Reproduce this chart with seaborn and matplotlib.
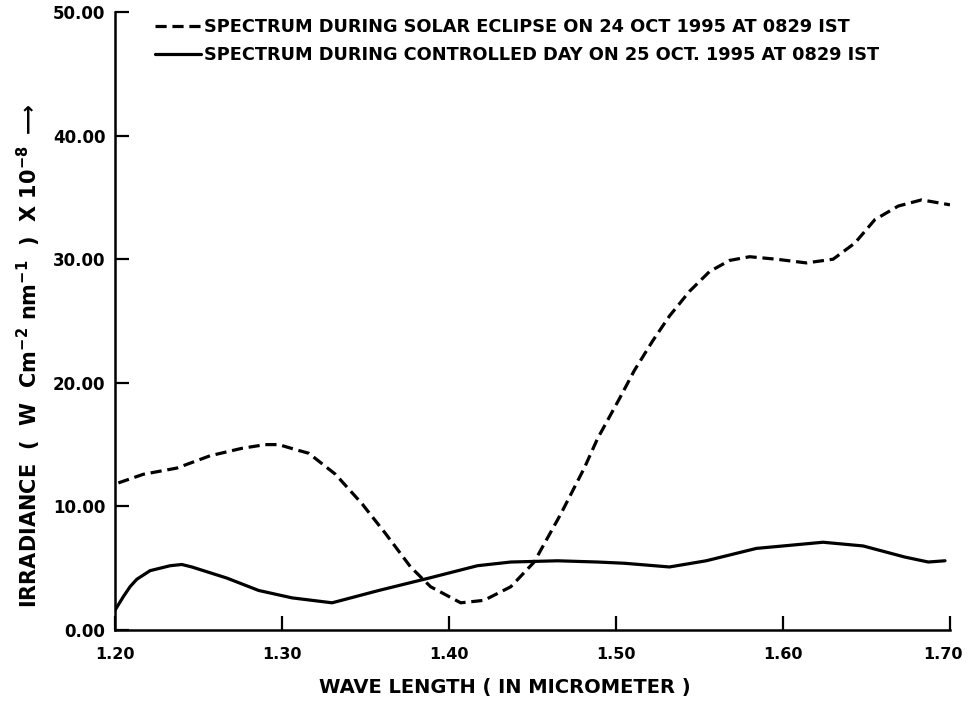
import numpy as np
import pandas as pd
import matplotlib
matplotlib.use("Agg")
import matplotlib.pyplot as plt
import matplotlib.transforms as mtransforms
import seaborn as sns

# wavelength (micrometer) / irradiance (x 1e-8 W cm-2 nm-1)
eclipse_wl = [1.202, 1.217, 1.237, 1.257, 1.276, 1.290, 1.298, 1.308, 1.316, 1.332,
              1.348, 1.362, 1.377, 1.389, 1.407, 1.421, 1.437, 1.451, 1.467, 1.481,
              1.489, 1.502, 1.511, 1.522, 1.532, 1.544, 1.556, 1.568, 1.580, 1.596,
              1.614, 1.630, 1.643, 1.655, 1.669, 1.683, 1.700]
eclipse_irr = [11.9, 12.6, 13.1, 14.1, 14.7, 15.0, 15.0, 14.6, 14.3, 12.6,
               10.2, 7.8, 5.1, 3.5, 2.2, 2.4, 3.5, 5.5, 9.4, 13.1,
               15.5, 18.7, 21.0, 23.4, 25.4, 27.4, 29.0, 29.9, 30.2, 30.0,
               29.7, 30.0, 31.3, 33.2, 34.3, 34.8, 34.4]

control_wl = [1.200, 1.205, 1.209, 1.213, 1.221, 1.233, 1.240, 1.246, 1.267, 1.286,
              1.306, 1.330, 1.358, 1.388, 1.417, 1.437, 1.465, 1.489, 1.505, 1.532,
              1.554, 1.584, 1.624, 1.648, 1.673, 1.687, 1.697]
control_irr = [1.6, 2.7, 3.5, 4.1, 4.8, 5.2, 5.3, 5.1, 4.2, 3.2,
               2.6, 2.2, 3.2, 4.2, 5.2, 5.5, 5.6, 5.5, 5.4, 5.1,
               5.6, 6.6, 7.1, 6.8, 5.9, 5.5, 5.6]

x_ticks = [1.20, 1.30, 1.40, 1.50, 1.60, 1.70]
y_ticks = [0, 10, 20, 30, 40, 50]

eclipse_label = "SPECTRUM DURING SOLAR ECLIPSE ON 24 OCT 1995 AT 0829 IST"
control_label = "SPECTRUM DURING CONTROLLED DAY ON 25 OCT. 1995 AT 0829 IST"

sns.set_style("ticks")
plt.rcParams['font.family'] = ['DejaVu Sans']
plt.rcParams['font.weight'] = 'bold'
plt.rcParams['text.color'] = 'black'
plt.rcParams['axes.edgecolor'] = 'black'
plt.rcParams['xtick.color'] = 'black'
plt.rcParams['ytick.color'] = 'black'
plt.rcParams['mathtext.default'] = 'bf'

fig = plt.figure(figsize=(9.71, 7.03), dpi=100)
ax = fig.add_axes([115 / 971, 1 - 630 / 703, 835 / 971, 618 / 703])

df_e = pd.DataFrame({"wl": eclipse_wl, "irr": eclipse_irr})
df_c = pd.DataFrame({"wl": control_wl, "irr": control_irr})

sns.lineplot(data=df_e, x="wl", y="irr", ax=ax, color="black", lw=2.3,
             label=eclipse_label, sort=False)
sns.lineplot(data=df_c, x="wl", y="irr", ax=ax, color="black", lw=2.3,
             label=control_label, sort=False)
ax.lines[0].set_dashes((3.5, 1.8))

ax.set_xlim(1.20, 1.70)
ax.set_ylim(0, 50)
ax.set_xticks(x_ticks)
ax.set_xticklabels([f"{t:.2f}" for t in x_ticks])
ax.set_yticks(y_ticks)
ax.set_yticklabels([f"{t:.2f}" for t in y_ticks])
ax.tick_params(axis="both", direction="in", length=10, width=1.6)
ax.tick_params(axis="x", pad=12, labelsize=11.5)
ax.tick_params(axis="y", pad=7, labelsize=12)
for lab in ax.get_xticklabels() + ax.get_yticklabels():
    lab.set_fontweight("bold")
# the last wavelength label sits a little left of its tick in the original
last = ax.get_xticklabels()[-1]
last.set_transform(last.get_transform() +
                   mtransforms.ScaledTranslation(-5 / 72, 0, fig.dpi_scale_trans))

sns.despine(ax=ax)
for s in ("left", "bottom"):
    ax.spines[s].set_linewidth(1.8)

ax.set_xlabel("")
ax.set_ylabel("")

fig.text(505 / 971, 1 - 687 / 703, "WAVE LENGTH ( IN MICROMETER )",
         ha="center", va="center", fontsize=14, fontweight="bold")
fig.text(29 / 971, 1 - 356 / 703,
         r"IRRADIANCE  (  W  Cm$^{-2}$ nm$^{-1}$  )  X 10$^{-8}$ $\longrightarrow$",
         ha="center", va="center", rotation=90, fontsize=15, fontweight="bold")

leg = ax.legend(loc="upper left", bbox_to_anchor=(155 / 971, 1 - 18 / 703),
                bbox_transform=fig.transFigure, frameon=False,
                handlelength=2.6, handletextpad=0.15, labelspacing=0.55,
                borderpad=0, borderaxespad=0, prop={"size": 12.8, "weight": "bold"})

fig.savefig("out.png", dpi=100)
